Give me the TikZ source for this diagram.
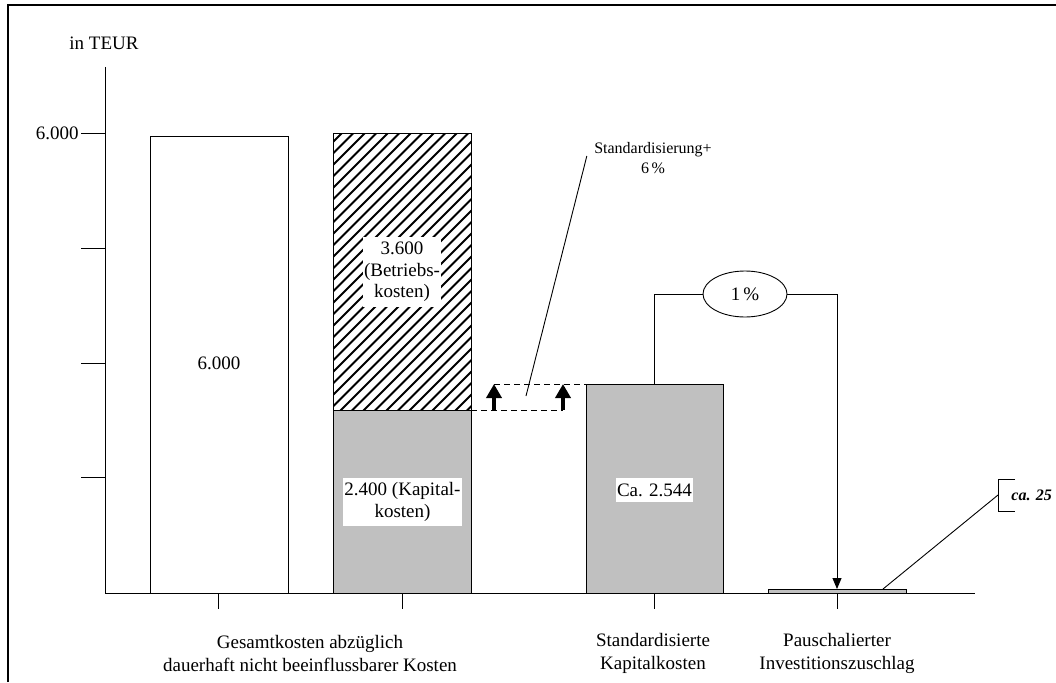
\documentclass[tikz,border=0pt]{standalone}
\usepackage{fontspec}
\setmainfont{Liberation Serif}
\usetikzlibrary{shapes.geometric,arrows.meta}
\definecolor{bargray}{HTML}{C0C0C0}
\begin{document}
\begin{tikzpicture}[x=1pt,y=-1pt,line width=0.9pt,
  every node/.style={font=\fontsize{19}{22}\selectfont},
  bar/.style={draw,inner sep=0pt,outer sep=0pt},
  lbl/.style={fill=white,inner sep=1.5pt,align=center,font=\fontsize{19}{21.5}\selectfont},
  cat/.style={align=center,font=\fontsize{19}{23}\selectfont},
  upar/.style={line width=3.5pt,-{Triangle[width=15pt,length=14pt]}},
  downar/.style={-{Triangle[width=9pt,length=11pt]}}]
\useasboundingbox (0,0) rectangle (1056,682);
% frame (cropped at right and bottom)
\draw[line width=2pt] (8,682) -- (8,5) -- (1056,5);
% axes
\coordinate (ytop) at (105,67);
\coordinate (orig) at (105,593);
\coordinate (xend) at (975,593);
\draw (ytop) -- (orig) -- (xend);
\foreach \y in {133,248,363,477} \draw (81,\y) -- (105,\y);
\foreach \x in {218,402,654,837} \draw (\x,593) -- (\x,609);
\node (unit) at (104,43) {in TEUR};
\node[anchor=east,inner sep=1pt] (t6) at (80,133) {6.000};
% bars
\node[bar,fill=white,minimum width=138,minimum height=457] (b1) at (219,364.5) {};
\node (v1) at (219,363) {6.000};
\node[bar,fill=white,minimum width=138,minimum height=277] (b2top) at (402,271.5) {};
\begin{scope}
\clip (b2top.south west) rectangle (b2top.north east);
\foreach \x in {40,51.5,...,490} \draw[line width=1.9pt] (\x,412) -- ++(280,-280);
\end{scope}
\draw (b2top.south west) rectangle (b2top.north east);
\node[bar,fill=bargray,minimum width=138,minimum height=183] (b2bot) at (402,501.5) {};
\node[bar,fill=bargray,minimum width=137,minimum height=209] (b3) at (654.5,488.5) {};
\node[bar,fill=bargray,minimum width=138,minimum height=4] (b4) at (837,591) {};
% bar labels
\node[lbl,minimum width=78,minimum height=70] (l36) at (402,272) {3.600\\(Betriebs-\\kosten)};
\node[lbl,minimum width=119,minimum height=48] (l24) at (402.5,502) {2.400 (Kapital-\\kosten)};
\node[lbl,minimum width=75,minimum height=24] (l25) at (654.5,490) {Ca. 2.544};
% standardisation step
\coordinate (d1) at (563,410);
\coordinate (d2) at (494,384);
\coordinate (a1b) at (494,410);
\coordinate (a2b) at (563,410);
\coordinate (a2t) at (563,384);
\draw[dashed,dash pattern=on 6pt off 4pt] (b2bot.north east) -- (d1);
\draw[dashed,dash pattern=on 6pt off 4pt] (d2) -- (b3.north west);
\draw[upar] (a1b) -- (d2);
\draw[upar] (a2b) -- (a2t);
\node[align=center,font=\fontsize{16}{20}\selectfont,inner sep=2pt] (std) at (653,158) {Standardisierung+\\6\,\%};
\coordinate (sd) at (526,396);
\draw ([xshift=-5pt,yshift=2pt]std.west) -- (sd);
% 1 % surcharge
\node[draw,ellipse,minimum width=84,minimum height=46,inner sep=0pt] (pct) at (745,294) {1\,\%};
\draw (b3.north) |- (pct.west);
\draw[downar] (pct.east) -| (b4.north);
% ca. 25 callout
\node[anchor=west,inner sep=2pt,font=\fontsize{16}{20}\selectfont\bfseries\itshape] (ca) at (1009,495) {ca. 25};
\coordinate (brk) at (998,495);
\coordinate (ca0) at (883,589);
\draw (1015,479) -- (998,479) -- (998,511) -- (1015,511);
\draw (ca0) -- (brk);
% category labels
\node[cat] (c1) at (310,653) {Gesamtkosten abzüglich\\dauerhaft nicht beeinflussbarer Kosten};
\node[cat] (c3) at (653,653) {Standardisierte\\Kapitalkosten};
\node[cat] (c4) at (837,653) {Pauschalierter\\Investitionszuschlag};
\end{tikzpicture}
\end{document}
